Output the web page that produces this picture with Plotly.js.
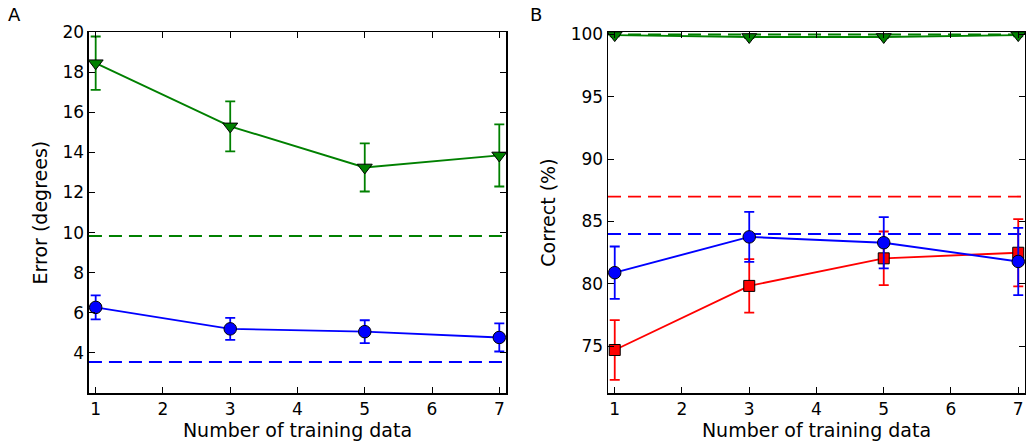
<!DOCTYPE html>
<html>
<head>
<meta charset="utf-8">
<script src="https://cdn.plot.ly/plotly-3.0.1.min.js"></script>
<style>html,body{margin:0;padding:0;background:#fff}#chart{width:1026px;height:446px}</style>
</head>
<body>
<div id="chart"></div>
<script>
// ---- data ----
const trainingData = [1, 3, 5, 7];

// Panel A: error (degrees)
const errGreen = [18.45, 15.3, 13.25, 13.85];
const errGreenSd = [1.33, 1.25, 1.2, 1.55];
const errBlue = [6.27, 5.2, 5.06, 4.77];
const errBlueSd = [0.6, 0.55, 0.57, 0.7];
const errGreenBaseline = 9.83;
const errBlueBaseline = 3.55;

// Panel B: correct (%)
const corGreen = [99.95, 99.8, 99.8, 99.95];
const corGreenSd = [0.1, 0.1, 0.1, 0.1];
const corBlue = [80.9, 83.77, 83.3, 81.8];
const corBlueSd = [2.1, 2.0, 2.05, 2.7];
const corRed = [74.7, 79.84, 82.05, 82.5];
const corRedSd = [2.4, 2.15, 2.15, 2.7];
const corGreenBaseline = 100.0;
const corBlueBaseline = 84.0;
const corRedBaseline = 87.0;

const xTicks = [1, 2, 3, 4, 5, 6, 7];
const yTicksA = [4, 6, 8, 10, 12, 14, 16, 18, 20];
const yTicksB = [75, 80, 85, 90, 95, 100];

// ---- styles ----
const GREEN = '#008000', BLUE = '#0000ff', RED = '#ff0000';
const FONT = 'DejaVu Sans, sans-serif';
const TICK_SIZE = 17, TITLE_SIZE = 19;

function series(x, y, sd, color, symbol, size, xa, ya) {
  return {
    x: x, y: y, xaxis: xa, yaxis: ya, type: 'scatter', mode: 'lines+markers',
    line: {color: color, width: 1.9},
    marker: {color: color, symbol: symbol, size: size, line: {color: '#000', width: 1}},
    error_y: {type: 'data', array: sd, visible: true, color: color, thickness: 1.8, width: 5},
    showlegend: false, hoverinfo: 'skip'
  };
}

const traces = [
  series(trainingData, errGreen, errGreenSd, GREEN, 'triangle-down', 13, 'x', 'y'),
  series(trainingData, errBlue, errBlueSd, BLUE, 'circle', 12.5, 'x', 'y'),
  series(trainingData, corGreen, corGreenSd, GREEN, 'triangle-down', 13, 'x2', 'y2'),
  series(trainingData, corRed, corRedSd, RED, 'square', 11, 'x2', 'y2'),
  series(trainingData, corBlue, corBlueSd, BLUE, 'circle', 12.5, 'x2', 'y2')
];

function hline(y, color, xref, yref) {
  return {type: 'line', xref: xref + ' domain', yref: yref, x0: 0, x1: 1, y0: y, y1: y,
          line: {color: color, width: 1.9, dash: '13px,7px'}, layer: 'below'};
}

const axisCommon = {
  showline: true, linecolor: '#000', linewidth: 1.5, mirror: 'allticks',
  ticks: 'inside', ticklen: 6, tickwidth: 1, tickcolor: '#000',
  showgrid: false, zeroline: false,
  tickfont: {family: FONT, size: TICK_SIZE, color: '#000'}
};

const layout = {
  width: 1026, height: 446,
  margin: {l: 0, r: 0, t: 0, b: 0},
  paper_bgcolor: '#fff', plot_bgcolor: '#fff',
  font: {family: FONT, size: TICK_SIZE, color: '#000'},
  xaxis: Object.assign({}, axisCommon, {
    domain: [0.0867, 0.4932], range: [0.9, 7.1], tickvals: xTicks, anchor: 'y',
    title: {text: 'Number of training data', font: {family: FONT, size: TITLE_SIZE}, standoff: 2}
  }),
  yaxis: Object.assign({}, axisCommon, {
    domain: [0.1188, 0.928], range: [2, 20], tickvals: yTicksA, anchor: 'x',
    title: {text: 'Error (degrees)', font: {family: FONT, size: TITLE_SIZE}, standoff: 10}
  }),
  xaxis2: Object.assign({}, axisCommon, {
    domain: [0.5926, 0.999], range: [0.9, 7.1], tickvals: xTicks, anchor: 'y2',
    title: {text: 'Number of training data', font: {family: FONT, size: TITLE_SIZE}, standoff: 2}
  }),
  yaxis2: Object.assign({}, axisCommon, {
    domain: [0.1188, 0.928], range: [71.25, 100.19], tickvals: yTicksB, anchor: 'x2',
    title: {text: 'Correct (%)', font: {family: FONT, size: TITLE_SIZE}, standoff: 10}
  }),
  shapes: [
    hline(errGreenBaseline, GREEN, 'x', 'y'),
    hline(errBlueBaseline, BLUE, 'x', 'y'),
    hline(corGreenBaseline, GREEN, 'x2', 'y2'),
    hline(corRedBaseline, RED, 'x2', 'y2'),
    hline(corBlueBaseline, BLUE, 'x2', 'y2')
  ],
  annotations: [
    {text: 'A', xref: 'paper', yref: 'paper', x: 6 / 1026, y: 1 - 15 / 446, xanchor: 'left', yanchor: 'middle',
     showarrow: false, font: {family: FONT, size: 18}},
    {text: 'B', xref: 'paper', yref: 'paper', x: 528 / 1026, y: 1 - 15 / 446, xanchor: 'left', yanchor: 'middle',
     showarrow: false, font: {family: FONT, size: 18}}
  ]
};

Plotly.newPlot('chart', traces, layout, {staticPlot: true, displayModeBar: false});
</script>
</body>
</html>
